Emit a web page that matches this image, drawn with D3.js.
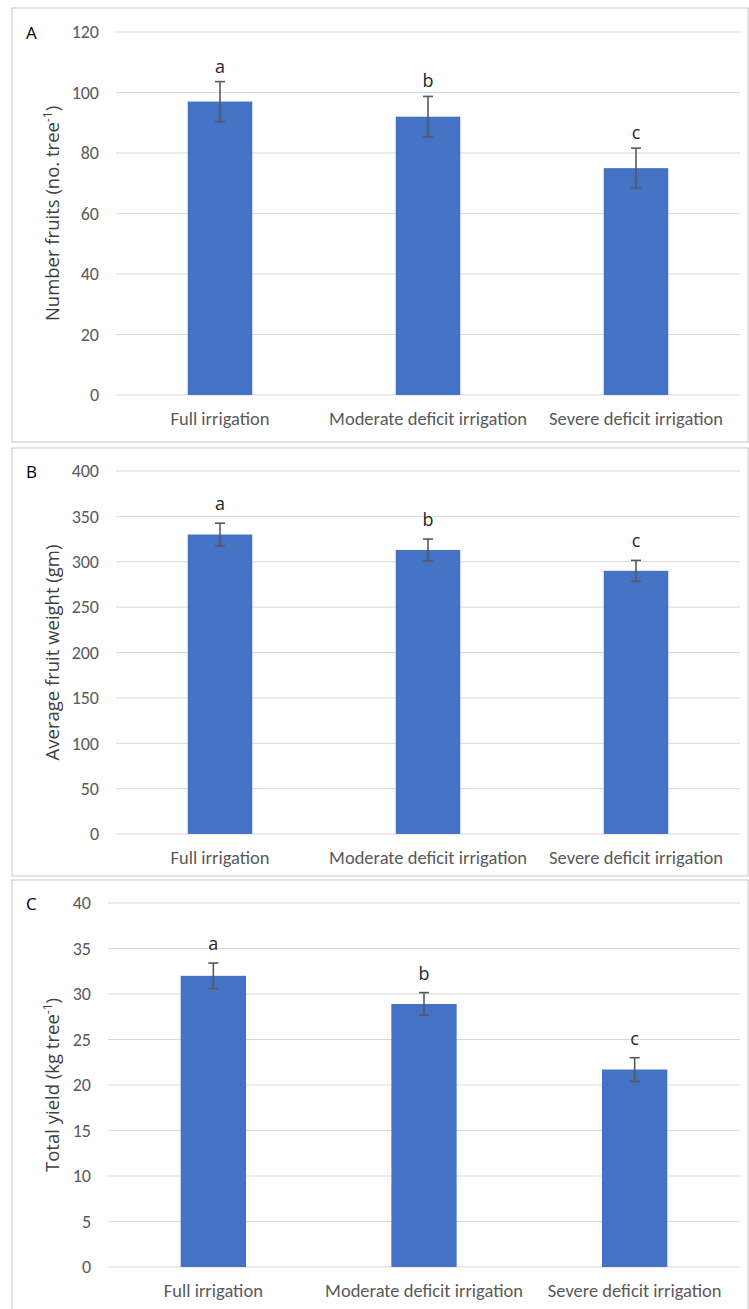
<!DOCTYPE html>
<html><head><meta charset="utf-8">
<script src="https://cdn.jsdelivr.net/npm/d3@7"></script>
<style>body{margin:0;background:#fff}svg{display:block}</style>
</head><body>
<script>
const categories = ["Full irrigation", "Moderate deficit irrigation", "Severe deficit irrigation"];
const fruitsValues = [97, 92, 75];
const fruitsErrors = [6.6, 6.7, 6.6];
const fruitsLetters = ["a", "b", "c"];
const fruitsTicks = [0, 20, 40, 60, 80, 100, 120];
const weightValues = [330, 313, 290];
const weightErrors = [12.5, 12, 11.5];
const weightLetters = ["a", "b", "c"];
const weightTicks = [0, 50, 100, 150, 200, 250, 300, 350, 400];
const yieldValues = [32.0, 28.9, 21.7];
const yieldErrors = [1.4, 1.25, 1.3];
const yieldLetters = ["a", "b", "c"];
const yieldTicks = [0, 5, 10, 15, 20, 25, 30, 35, 40];

const W = 749, H = 1309;
const NARROW = "Carlito, 'Liberation Sans Narrow', sans-serif";
const WIDE = "'Open Sans', 'Noto Sans', sans-serif";
const svg = d3.select("body").append("svg").attr("width", W).attr("height", H);

const panels = [
  {label:"A", values:fruitsValues, errors:fruitsErrors, letters:fruitsLetters, ticks:fruitsTicks, max:120,
   box:[12, 8, 748, 442], x0:116, x1:740, yTop:32, yBot:395, catY:419,
   title:["Number fruits (no. tree", "-1", ")"], titleX:59, tickX:99, letterOff:16},
  {label:"B", values:weightValues, errors:weightErrors, letters:weightLetters, ticks:weightTicks, max:400,
   box:[12, 448, 748, 876], x0:116, x1:740, yTop:471, yBot:834, catY:858,
   title:["Average fruit weight (gm)"], titleX:59, tickX:99, letterOff:20},
  {label:"C", values:yieldValues, errors:yieldErrors, letters:yieldLetters, ticks:yieldTicks, max:40,
   box:[12, 880, 748, 1320], x0:108, x1:740, yTop:903, yBot:1267, catY:1291,
   title:["Total yield (kg tree", "-1", ")"], titleX:59, tickX:91, letterOff:20}
];

panels.forEach(p => {
  const g = svg.append("g");
  g.append("rect").attr("x", p.box[0]).attr("y", p.box[1])
    .attr("width", p.box[2]-p.box[0]).attr("height", p.box[3]-p.box[1])
    .attr("fill", "#fff").attr("stroke", "#d9d9d9").attr("stroke-width", 1.5);

  const x = d3.scaleBand().domain(categories).range([p.x0, p.x1]).paddingInner(0.69).paddingOuter(0.345);
  const y = d3.scaleLinear().domain([0, p.max]).range([p.yBot, p.yTop]);

  g.selectAll(".grid").data(p.ticks).join("line")
    .attr("x1", p.x0).attr("x2", p.x1)
    .attr("y1", d => y(d)).attr("y2", d => y(d))
    .attr("stroke", "#d9d9d9").attr("stroke-width", 1);

  const yAxis = d3.axisLeft(y).tickValues(p.ticks).tickSize(0).tickPadding(0);
  const ya = g.append("g").attr("transform", `translate(${p.tickX},0)`).call(yAxis);
  ya.select(".domain").remove();
  ya.selectAll("text").attr("fill", "#595959").style("font-family", NARROW).style("font-size", "18px");

  const xAxis = d3.axisBottom(x).tickSize(0).tickPadding(0);
  const xa = g.append("g").attr("transform", `translate(0,${p.catY})`).call(xAxis);
  xa.select(".domain").remove();
  xa.selectAll("text").attr("fill", "#595959").attr("dy", "0.35em").style("font-family", NARROW).style("font-size", "18.5px");

  g.selectAll(".bar").data(p.values).join("rect")
    .attr("x", (d, i) => x(categories[i]))
    .attr("width", x.bandwidth())
    .attr("y", d => y(d))
    .attr("height", d => y(0) - y(d))
    .attr("fill", "#4472c4");

  const cx = i => x(categories[i]) + x.bandwidth() / 2;
  p.values.forEach((v, i) => {
    const e = p.errors[i];
    const c = cx(i);
    g.append("line").attr("x1", c).attr("x2", c).attr("y1", y(v + e)).attr("y2", y(v - e))
      .attr("stroke", "#595959").attr("stroke-width", 1.6);
    [v + e, v - e].forEach(t => {
      g.append("line").attr("x1", c - 5).attr("x2", c + 5).attr("y1", y(t)).attr("y2", y(t))
        .attr("stroke", "#595959").attr("stroke-width", 1.6);
    });
    g.append("text").attr("x", c).attr("y", y(v + e) - p.letterOff)
      .attr("text-anchor", "middle").attr("dominant-baseline", "central")
      .attr("fill", "#262626").style("font-family", WIDE).style("font-size", "18px")
      .text(p.letters[i]);
  });

  g.append("text").attr("x", 26).attr("y", p.yTop).attr("dominant-baseline", "central")
    .attr("fill", "#000").style("font-family", WIDE).style("font-size", "17px").text(p.label);

  const t = g.append("text").attr("transform", `translate(${p.titleX},${(p.yTop + p.yBot) / 2}) rotate(-90)`)
    .attr("text-anchor", "middle")
    .attr("fill", "#404040").style("font-family", WIDE).style("font-size", "18.5px");
  t.append("tspan").text(p.title[0]);
  if (p.title.length > 1) {
    t.append("tspan").attr("dy", -7).style("font-size", "12px").text(p.title[1]);
    t.append("tspan").attr("dy", 7).text(p.title[2]);
  }
});
</script>
</body></html>
